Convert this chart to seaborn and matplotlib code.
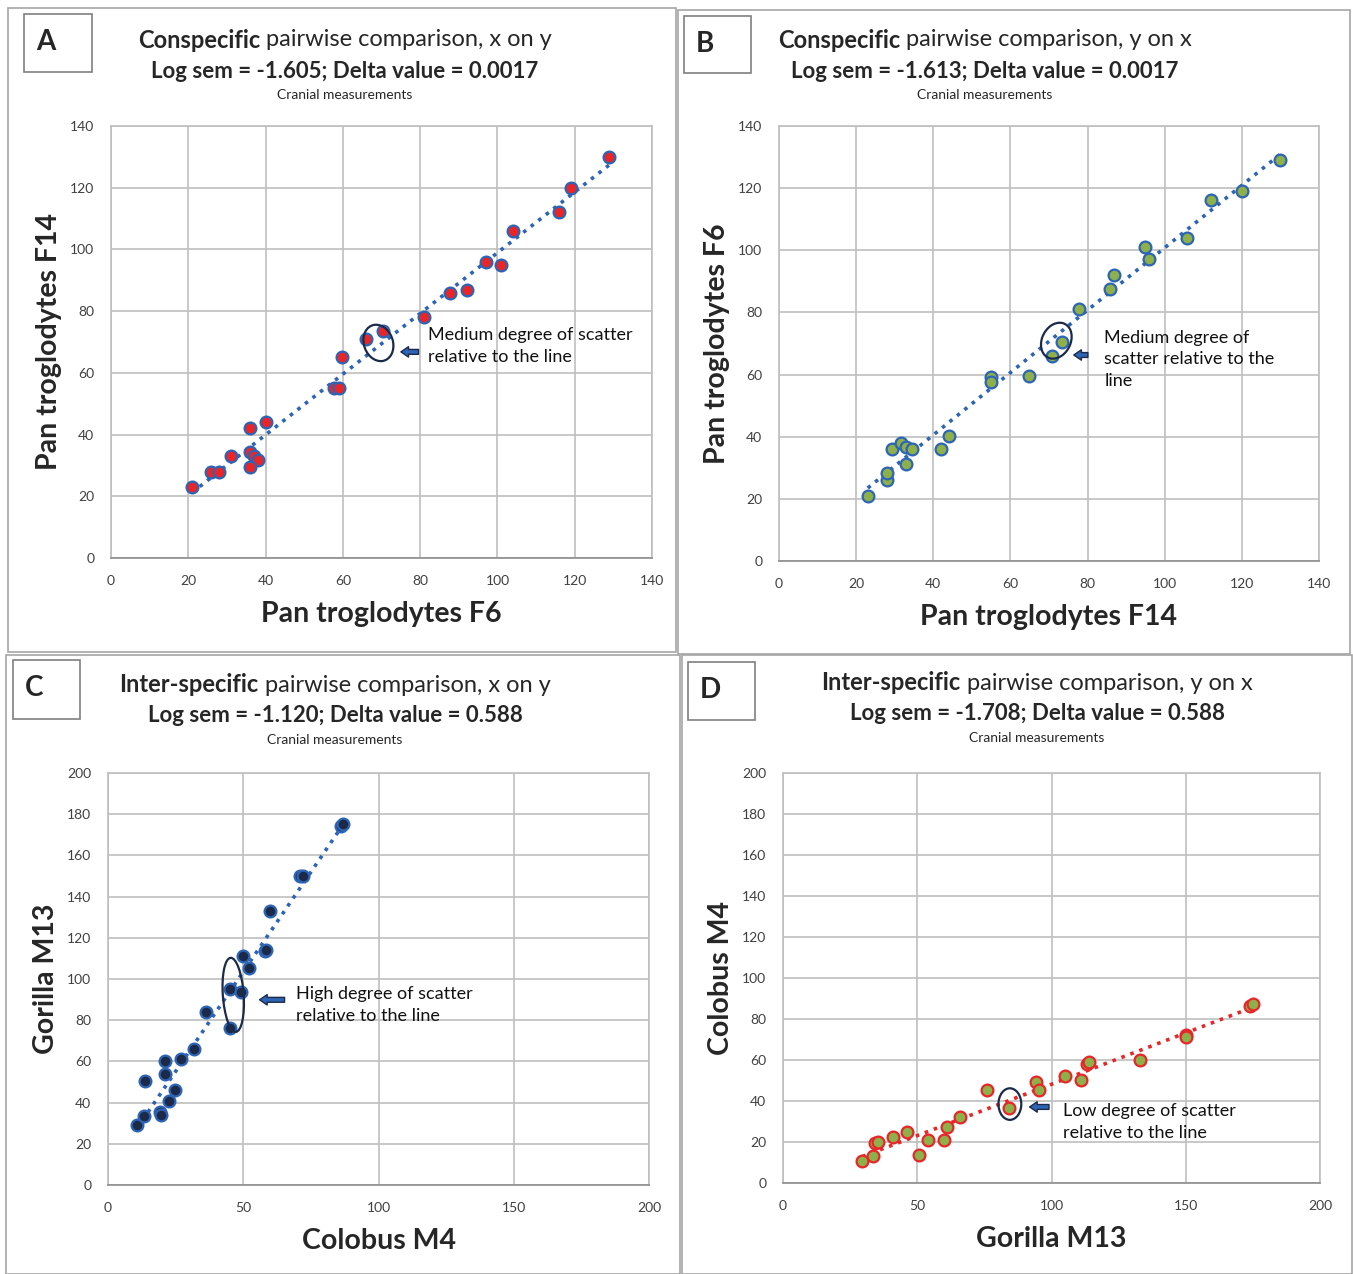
import matplotlib

matplotlib.use("Agg")
import matplotlib.pyplot as plt
from matplotlib.patches import Ellipse, Rectangle
import seaborn as sns

sns.set_style("white")
plt.rcParams["font.family"] = ["Lato", "DejaVu Sans"]

W, H = 1353, 1274

# --------------------------------------------------------------------------- #
# Data
# --------------------------------------------------------------------------- #
# A: Pan troglodytes F6 (x) vs F14 (y)
a_x = [21, 26, 28, 31, 36, 40, 36, 37, 38, 36, 57.7, 59, 59.7, 66, 70.3,
       81, 87.6, 92, 97, 101, 104, 116, 119, 129]
a_y = [23, 28, 28, 33, 42, 44, 34.5, 33, 31.6, 29.5, 55, 55, 65, 71, 73.6,
       78, 86, 87, 96, 95, 106, 112, 120, 130]

# B: Pan troglodytes F14 (x) vs F6 (y)
b_x = [23, 27.9, 27.9, 29.4, 31.5, 33, 34.5, 33, 41.9, 44, 54.9, 54.9, 64.9,
       70.9, 73.4, 77.9, 85.9, 86.8, 94.9, 95.9, 105.9, 111.9, 120, 129.9]
b_y = [20.8, 26.2, 28.4, 36, 38.1, 36.8, 35.9, 31.1, 36.2, 40.1, 59.2, 57.7,
       59.7, 66, 70.5, 81.1, 87.6, 92.1, 101.1, 97.2, 104, 116.2, 119.1, 129.1]

# C: Colobus M4 (x) vs Gorilla M13 (y)
c_x = [10.8, 13.2, 13.6, 19.4, 19.6, 20.9, 20.9, 22.5, 24.7, 27, 31.9, 36.3,
       45.1, 45.1, 49, 50, 52.1, 57.9, 58.3, 60, 71.1, 72, 86.2, 86.8]
c_y = [29.1, 33.7, 50.4, 35.5, 34, 60.1, 53.8, 41, 46.2, 61.1, 65.9, 84.2,
       76, 95.2, 93.9, 111.3, 105.3, 113.4, 114.2, 133.1, 150.1, 149.8,
       174.2, 175.2]

# D: Gorilla M13 (x) vs Colobus M4 (y)
d_x = [29.5, 33.5, 34.4, 35.5, 40.9, 46.1, 50.5, 54.1, 60, 61.1, 65.9, 76,
       84, 94.1, 95.2, 105.1, 110.9, 113.1, 114.1, 132.9, 150, 150, 174, 175.2]
d_y = [10.9, 13.3, 19.5, 19.8, 22.6, 25, 13.8, 21, 21, 27.3, 32.2, 45.2,
       36.6, 49.3, 45.2, 52, 50.1, 58, 58.9, 60.2, 72.4, 71.1, 86.2, 87.3]

BLUE = "#2e64b4"
RED = "#e8262a"
GREEN = "#8db04a"
NAVY = "#1c2a4a"

fig = plt.figure(figsize=(W / 100, H / 100), dpi=100)
renderer = fig.canvas.get_renderer()


def fx(x):
    return x / W


def fy(y):
    return 1 - y / H


def box(x0, y0, x1, y1, color="#a6a6a6", lw=1.2):
    fig.add_artist(Rectangle((fx(x0), fy(y1)), (x1 - x0) / W, (y1 - y0) / H,
                             transform=fig.transFigure, fill=False,
                             edgecolor=color, lw=lw))


def title_block(cx, cy, bold, rest, stats):
    t1 = fig.text(0, fy(cy), bold, fontsize=17, fontweight="bold", va="center")
    t2 = fig.text(0, fy(cy), rest, fontsize=17, va="center")
    w1 = t1.get_window_extent(renderer).width
    w2 = t2.get_window_extent(renderer).width
    left = cx - (w1 + w2) / 2
    t1.set_x(fx(left))
    t2.set_x(fx(left + w1))
    fig.text(fx(cx), fy(cy + 31), stats, fontsize=16, fontweight="bold",
             ha="center", va="center")
    fig.text(fx(cx), fy(cy + 55), "Cranial measurements", fontsize=10,
             ha="center", va="center")


def panel(rect, x, y, lim, xstep, ystep, fill, edge, line, xlabel, ylabel):
    x0, y0, x1, y1 = rect
    ax = fig.add_axes([fx(x0), fy(y1), (x1 - x0) / W, (y1 - y0) / H])
    sns.regplot(x=x, y=y, scatter=False, ci=None, ax=ax,
                line_kws=dict(color=line, ls=":", lw=2.6))
    sns.scatterplot(x=x, y=y, ax=ax, s=72, color=fill, edgecolor=edge,
                    linewidth=1.6, zorder=4)
    ax.set_xlim(0, lim)
    ax.set_ylim(0, lim)
    ax.set_xticks(range(0, lim + 1, xstep))
    ax.set_yticks(range(0, lim + 1, ystep))
    ax.grid(True, color="#bfbfbf", lw=1.2)
    ax.set_axisbelow(True)
    for s in ax.spines.values():
        s.set_color("#bfbfbf")
        s.set_linewidth(1.2)
    ax.spines["bottom"].set_color("#8c8c8c")
    ax.tick_params(length=0, labelsize=10, labelcolor="#404040", pad=12)
    ax.set_xlabel(xlabel, fontsize=20.5, fontweight="bold", labelpad=10)
    ax.set_ylabel(ylabel, fontsize=20.5, fontweight="bold", labelpad=6)
    return ax


def note(ax, center, w, h, angle, tail, tip, text_xy, text):
    ax.add_patch(Ellipse(center, w, h, angle=angle, fill=False,
                         edgecolor=NAVY, lw=1.6, zorder=5))
    ax.annotate("", xy=tip, xytext=tail, zorder=5,
                arrowprops=dict(arrowstyle="simple,head_length=0.55,head_width=0.75,tail_width=0.35",
                                fc=BLUE, ec=NAVY, lw=1))
    ax.text(*text_xy, text, fontsize=13, va="top", ha="left",
            linespacing=1.45, color="#111111")


# panel frames and letter boxes
box(8, 8, 676, 652)
box(678, 10, 1350, 654)
box(6, 655, 680, 1274)
box(682, 655, 1352, 1274)
for (lx0, ly0, lx1, ly1, letter) in [(24, 14, 92, 72, "A"), (684, 16, 751, 73, "B"),
                                      (13, 660, 80, 719, "C"), (688, 662, 755, 720, "D")]:
    box(lx0, ly0, lx1, ly1, color="#7f7f7f", lw=1.2)
    fig.text(fx(lx0 + 12), fy((ly0 + ly1) / 2 - 1), letter, fontsize=20,
             fontweight="bold", va="center", ha="left")

title_block(345, 40, "Conspecific", " pairwise comparison, x on y",
            "Log sem = -1.605; Delta value = 0.0017")
title_block(985, 40, "Conspecific", " pairwise comparison, y on x",
            "Log sem = -1.613; Delta value = 0.0017")
title_block(335, 685, "Inter-specific", " pairwise comparison, x on y",
            "Log sem = -1.120; Delta value = 0.588")
title_block(1037, 683, "Inter-specific", " pairwise comparison, y on x",
            "Log sem = -1.708; Delta value = 0.588")

ax_a = panel((111, 126, 652, 558), a_x, a_y, 140, 20, 20, RED, BLUE, BLUE,
             "Pan troglodytes F6", "Pan troglodytes F14")
note(ax_a, (69.2, 69.7), 7.6, 11.9, 10, (80.3, 66.8), (74.3, 66.8), (82, 74.8),
     "Medium degree of scatter\nrelative to the line")

ax_b = panel((779, 126, 1319, 561), b_x, b_y, 140, 20, 20, GREEN, BLUE, BLUE,
             "Pan troglodytes F14", "Pan troglodytes F6")
note(ax_b, (71.9, 70.9), 7.6, 11.8, -15, (80.8, 66.3), (75.7, 66.3), (84.3, 74.5),
     "Medium degree of\nscatter relative to the\nline")

ax_c = panel((108, 773, 649, 1185), c_x, c_y, 200, 50, 20, NAVY, BLUE, BLUE,
             "Colobus M4", "Gorilla M13")
ax_c.tick_params(axis="x", length=5, color="#8c8c8c", pad=7)
note(ax_c, (46.3, 92.3), 7.7, 36, 3, (66.3, 89.9), (55, 89.9), (69.5, 96.5),
     "High degree of scatter\nrelative to the line")

ax_d = panel((783, 773, 1320, 1183), d_x, d_y, 200, 50, 20, GREEN, RED, RED,
             "Gorilla M13", "Colobus M4")
note(ax_d, (84.5, 38.5), 8.5, 15.4, 0, (100.1, 37.1), (90.8, 37.1), (104.3, 39),
     "Low degree of scatter\nrelative to the line")

fig.savefig("out.png", dpi=100)
